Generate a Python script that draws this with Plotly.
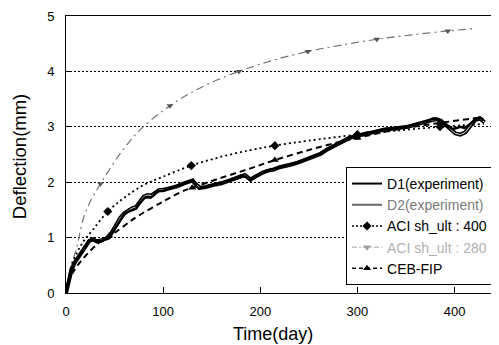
import plotly.graph_objects as go

# ---------------- data ----------------
d1_day = [0, 2, 4, 6, 8, 10, 12, 14, 16, 18, 20, 22, 24, 27, 30, 33, 36, 39, 42, 45,
          48, 51, 54, 57, 60, 63, 66, 69, 72, 75, 78, 81, 84, 87, 90, 93, 96, 100, 104, 108,
          112, 116, 120, 124, 128, 131, 134, 137, 140, 144, 148, 152, 156, 160, 165, 170, 175, 180, 185, 190,
          194, 198, 202, 206, 210, 214, 218, 222, 226, 230, 234, 238, 242, 246, 250, 254, 258, 262, 266, 270,
          274, 278, 282, 286, 290, 294, 298, 302, 306, 310, 314, 318, 322, 326, 330, 334, 338, 342, 346, 350,
          354, 358, 362, 366, 370, 374, 378, 382, 386, 390, 394, 398, 402, 406, 410, 414, 418, 422, 426, 430]
d1_val = [0.00, 0.20, 0.33, 0.45, 0.52, 0.58, 0.63, 0.68, 0.73, 0.78, 0.84, 0.90, 0.95, 0.96, 0.94, 0.95, 0.93, 0.96, 0.98, 1.02,
          1.10, 1.20, 1.28, 1.35, 1.42, 1.46, 1.48, 1.50, 1.52, 1.60, 1.66, 1.72, 1.73, 1.72, 1.76, 1.82, 1.84, 1.84, 1.87, 1.90,
          1.92, 1.95, 1.96, 1.99, 2.02, 2.04, 1.93, 1.88, 1.90, 1.92, 1.93, 1.95, 1.97, 1.99, 2.02, 2.04, 2.08, 2.12, 2.10, 2.03,
          2.10, 2.14, 2.17, 2.20, 2.22, 2.24, 2.25, 2.28, 2.30, 2.31, 2.33, 2.36, 2.38, 2.40, 2.43, 2.46, 2.49, 2.52, 2.57, 2.61,
          2.64, 2.68, 2.72, 2.76, 2.80, 2.82, 2.84, 2.86, 2.87, 2.89, 2.90, 2.92, 2.93, 2.95, 2.96, 2.97, 2.96, 2.98, 2.99, 3.00,
          3.02, 3.03, 3.05, 3.08, 3.10, 3.12, 3.15, 3.13, 3.10, 3.05, 3.00, 2.96, 2.98, 3.00, 2.98, 3.02, 3.08, 3.13, 3.17, 3.12]

d2_day = [0, 3, 6, 9, 12, 15, 18, 21, 24, 28, 32, 36, 40, 44, 48, 52, 56, 60, 64, 68,
          72, 76, 80, 84, 88, 92, 96, 100, 105, 110, 115, 120, 125, 130, 134, 138, 143, 148, 154, 160,
          166, 172, 178, 184, 190, 196, 202, 208, 214, 220, 226, 232, 238, 244, 250, 256, 262, 268, 274, 280,
          286, 292, 298, 304, 310, 316, 322, 328, 334, 340, 346, 352, 358, 364, 370, 376, 381, 386, 391, 396,
          401, 406, 411, 416, 421, 426, 431]
d2_val = [0.00, 0.26, 0.44, 0.55, 0.63, 0.70, 0.77, 0.86, 0.94, 0.97, 0.93, 0.95, 0.97, 1.00, 1.12, 1.24, 1.36, 1.44, 1.49, 1.53,
          1.55, 1.64, 1.74, 1.77, 1.76, 1.81, 1.86, 1.86, 1.88, 1.91, 1.93, 1.97, 2.00, 2.03, 1.96, 1.90, 1.91, 1.94, 1.96, 1.98,
          2.02, 2.06, 2.10, 2.13, 2.05, 2.12, 2.17, 2.21, 2.23, 2.27, 2.29, 2.32, 2.35, 2.39, 2.42, 2.47, 2.51, 2.58, 2.63, 2.69,
          2.75, 2.80, 2.83, 2.86, 2.88, 2.90, 2.93, 2.95, 2.96, 2.97, 2.98, 3.00, 3.03, 3.06, 3.09, 3.12, 3.14, 3.11, 3.04, 2.95,
          2.88, 2.86, 2.90, 3.01, 3.12, 3.15, 3.08]

aci400_day = [0, 5, 10, 15, 20, 28, 43, 60, 80, 100, 129, 160, 190, 215, 250, 300, 340, 385, 430]
aci400_val = [0.00, 0.45, 0.68, 0.85, 0.98, 1.15, 1.47, 1.72, 1.95, 2.10, 2.30, 2.46, 2.58, 2.66, 2.75, 2.86, 2.93, 3.00, 3.05]
aci400_mk_day = [43, 129, 215, 300, 385]
aci400_mk_val = [1.47, 2.30, 2.66, 2.86, 3.00]

aci280_day = [0, 5, 10, 18, 25, 35.5, 56, 76, 107, 140, 178, 213, 249, 285, 320, 356, 393, 420]
aci280_val = [0.00, 0.50, 0.75, 1.35, 1.65, 1.97, 2.52, 2.94, 3.38, 3.72, 4.00, 4.20, 4.36, 4.48, 4.58, 4.66, 4.73, 4.77]
aci280_mk_day = [35.5, 107, 178, 249, 320, 393]
aci280_mk_val = [1.97, 3.38, 4.00, 4.36, 4.58, 4.73]

ceb_day = [0, 5, 10, 18, 26, 35, 44.5, 51, 65, 75, 100, 118, 130, 160, 190, 215, 250, 280, 300, 340, 385, 427]
ceb_val = [0.00, 0.30, 0.45, 0.63, 0.78, 0.92, 1.04, 1.10, 1.28, 1.40, 1.65, 1.82, 1.90, 2.08, 2.25, 2.40, 2.58, 2.72, 2.80, 2.95, 3.07, 3.17]
ceb_mk_day = [44.5, 130, 215, 300, 385]
ceb_mk_val = [1.04, 1.90, 2.40, 2.80, 3.07]

names = ["D1(experiment)", "D2(experiment)", "ACI sh_ult : 400", "ACI sh_ult : 280", "CEB-FIP"]
x_ticks = [0, 100, 200, 300, 400]
y_ticks = [0, 1, 2, 3, 4, 5]

# ---------------- figure ----------------
fig = go.Figure()

GRAY = "#6e6e6e"

# ACI 280 (gray dash-dot with down triangles)
fig.add_trace(go.Scatter(x=aci280_day, y=aci280_val, mode="lines", line_shape="spline",
                         line=dict(color=GRAY, width=1.1, dash="8px,4px,2px,4px"), showlegend=False))
fig.add_trace(go.Scatter(x=aci280_mk_day, y=aci280_mk_val, mode="markers",
                         marker=dict(symbol="triangle-down", size=6, color="#555555"), showlegend=False))
# ACI 400 (black dotted with diamonds)
fig.add_trace(go.Scatter(x=aci400_day, y=aci400_val, mode="lines", line_shape="spline",
                         line=dict(color="black", width=1.8, dash="2px,3px"), showlegend=False))
fig.add_trace(go.Scatter(x=aci400_mk_day, y=aci400_mk_val, mode="markers",
                         marker=dict(symbol="diamond", size=7, color="black"), showlegend=False))
# CEB-FIP (black dashed with triangles)
fig.add_trace(go.Scatter(x=ceb_day, y=ceb_val, mode="lines", line_shape="spline",
                         line=dict(color="black", width=2, dash="6px,4px"), showlegend=False))
fig.add_trace(go.Scatter(x=ceb_mk_day, y=ceb_mk_val, mode="markers",
                         marker=dict(symbol="triangle-up", size=7, color="black"), showlegend=False))
# D2 (hollow line)
fig.add_trace(go.Scatter(x=d2_day, y=d2_val, mode="lines",
                         line=dict(color="black", width=4), showlegend=False))
fig.add_trace(go.Scatter(x=d2_day, y=d2_val, mode="lines",
                         line=dict(color="white", width=0.9), showlegend=False))
# D1 (solid black)
fig.add_trace(go.Scatter(x=d1_day, y=d1_val, mode="lines",
                         line=dict(color="black", width=2.6), showlegend=False))

# legend-only entries
fig.add_trace(go.Scatter(x=[None], y=[None], mode="lines", name=names[0],
                         line=dict(color="black", width=2)))
fig.add_trace(go.Scatter(x=[None], y=[None], mode="lines",
                         name="<span style='color:#7a7a7a'>" + names[1] + "</span>",
                         line=dict(color="#6a6a6a", width=2)))
fig.add_trace(go.Scatter(x=[None], y=[None], mode="lines+markers", name=names[2],
                         line=dict(color="black", width=1.5, dash="2px,2px"),
                         marker=dict(symbol="diamond", size=7, color="black")))
fig.add_trace(go.Scatter(x=[None], y=[None], mode="lines+markers",
                         name="<span style='color:#b0b0b0'>" + names[3] + "</span>",
                         line=dict(color="#a0a0a0", width=1, dash="5px,2px,2px,2px"),
                         marker=dict(symbol="triangle-down", size=7, color="#a0a0a0")))
fig.add_trace(go.Scatter(x=[None], y=[None], mode="lines+markers", name=names[4],
                         line=dict(color="black", width=1.5, dash="4px,3px"),
                         marker=dict(symbol="triangle-up", size=7, color="black")))

fig.update_layout(
    width=499, height=345,
    margin=dict(l=58, r=0, t=8, b=60),
    paper_bgcolor="white", plot_bgcolor="white",
    font=dict(family="Liberation Sans, Arial, sans-serif", size=13, color="black"),
    showlegend=True,
    legend=dict(x=0.635, y=0.455, xanchor="left", yanchor="top",
                bgcolor="white", bordercolor="black", borderwidth=1,
                font=dict(size=14, color="black"), tracegroupgap=0,
                itemwidth=30),
)
fig.update_xaxes(range=[0, 454], tickvals=x_ticks, ticktext=[str(v) for v in x_ticks],
                 ticks="inside", ticklen=6, tickcolor="black", tickwidth=1,
                 showline=True, linecolor="black", linewidth=1, mirror=True,
                 showgrid=False, zeroline=False, ticklabelstandoff=6)
fig.update_yaxes(range=[0, 5], tickvals=y_ticks, ticktext=[str(v) for v in y_ticks],
                 ticks="inside", ticklen=4, tickcolor="black",
                 showline=True, linecolor="black", linewidth=1,
                 showgrid=True, gridcolor="black", gridwidth=1, griddash="2px,2px",
                 zeroline=False, ticklabelstandoff=8)

# legend drop shadow (bottom edge)
fig.add_shape(type="line", xref="paper", yref="paper", x0=0.64, x1=1.0, y0=0.049, y1=0.049,
              line=dict(color="black", width=2.5))

fig.add_annotation(text="Time(day)", xref="paper", yref="paper", x=0.469, y=-0.105,
                   xanchor="center", yanchor="top", showarrow=False,
                   font=dict(size=18, color="black"))
fig.add_annotation(text="Deflection(mm)", xref="paper", yref="paper", x=-0.104, y=0.491,
                   xanchor="center", yanchor="middle", textangle=-90, showarrow=False,
                   font=dict(size=18.5, color="black"))

fig.write_html("out.html")
